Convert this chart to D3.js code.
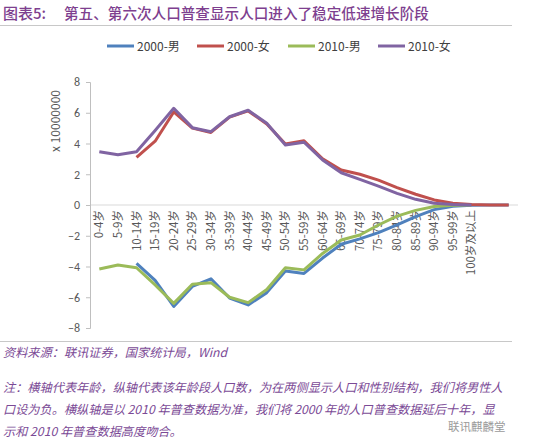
<!DOCTYPE html>
<html><head><meta charset="utf-8">
<script src="https://cdn.jsdelivr.net/npm/d3@7"></script>
<style>body{margin:0;background:#fff}svg{display:block}text{font-family:"Noto Sans CJK SC","Noto Sans",sans-serif}</style>
</head><body><svg id="c" width="550" height="447"></svg>
<script>
const categories = ["0-4岁","5-9岁","10-14岁","15-19岁","20-24岁","25-29岁","30-34岁","35-39岁","40-44岁","45-49岁","50-54岁","55-59岁","60-64岁","65-69岁","70-74岁","75-79岁","80-84岁","85-89岁","90-94岁","95-99岁","100岁及以上","",""];
const male2000 = [null,null,-3.8,-4.9,-6.6,-5.3,-4.8,-6.05,-6.5,-5.7,-4.3,-4.45,-3.45,-2.55,-2.2,-1.8,-1.3,-0.75,-0.3,-0.08,-0.015,-0.003,0];
const female2000 = [null,null,3.1,4.15,6.05,5.0,4.72,5.72,6.12,5.27,3.97,4.18,3.0,2.28,2.0,1.62,1.13,0.7,0.33,0.11,0.025,0.005,0];
const male2010 = [-4.16,-3.9,-4.08,-5.2,-6.4,-5.15,-5.05,-6.0,-6.35,-5.5,-4.08,-4.22,-3.15,-2.28,-1.95,-1.3,-0.72,-0.35,-0.1,-0.02,-0.003];
const female2010 = [3.47,3.27,3.47,4.85,6.29,5.03,4.77,5.74,6.16,5.32,3.9,4.08,2.93,2.1,1.67,1.23,0.76,0.37,0.11,0.03,0.005];
const seriesNames = ["2000-男","2000-女","2010-男","2010-女"];
const colors = ["#4F81BD","#C0504D","#9BBB59","#8064A2"];
const yTicks = [-8,-6,-4,-2,0,2,4,6,8];

const svg = d3.select("#c");
const purple = "#7E3F8F";
// Title
svg.append("text").attr("x",3).attr("y",19).attr("fill",purple).attr("font-size",15).attr("font-weight",500).text("图表5:");
svg.append("text").attr("x",64).attr("y",19).attr("fill",purple).attr("font-size",14.6).attr("font-weight",500).text("第五、第六次人口普查显示人口进入了稳定低速增长阶段");
svg.append("line").attr("x1",0).attr("x2",512).attr("y1",25.5).attr("y2",25.5).attr("stroke","#c8c8c8").attr("stroke-width",1);

const x = d3.scaleBand().domain(d3.range(categories.length)).range([90,518]);
const y = d3.scaleLinear().domain([-8,8]).range([328,82]);
const cx = i => x(i) + x.bandwidth()/2;

// zero line
svg.append("line").attr("x1",90).attr("x2",518).attr("y1",y(0)).attr("y2",y(0)).attr("stroke","#d9d9d9").attr("stroke-width",1);

// y axis
const ya = svg.append("g").attr("transform","translate(90,0)").call(d3.axisLeft(y).tickValues(yTicks).tickSize(4).tickPadding(6));
ya.select(".domain").attr("stroke","#bfbfbf");
ya.selectAll(".tick line").attr("stroke","#bfbfbf");
ya.selectAll(".tick text").attr("fill","#595959").attr("font-size",12).style("font-family","Calibri, Carlito, 'Liberation Sans', sans-serif");

svg.append("text").attr("transform","translate(60,121) rotate(-90)").attr("text-anchor","middle").attr("fill","#595959").attr("font-size",12).text("x 10000000");

// x labels
svg.append("g").selectAll("text").data(categories).join("text")
  .attr("transform",(d,i)=>`translate(${cx(i)+4},${y(0)+5}) rotate(-90)`)
  .attr("text-anchor","end").attr("fill","#595959").attr("font-size",11.5).text(d=>d);

// lines
const allSeries = [male2000,female2000,male2010,female2010];
const line = d3.line().defined(d=>d!=null).x((d,i)=>cx(i)).y(d=>y(d));
const order = [0,2,1,3];
order.forEach(k=>{
  svg.append("path").attr("d",line(allSeries[k])).attr("fill","none").attr("stroke",colors[k]).attr("stroke-width",3).attr("stroke-linejoin","round");
});

// legend
const lx = [107,197,288,378];
seriesNames.forEach((n,i)=>{
  svg.append("line").attr("x1",lx[i]).attr("x2",lx[i]+27).attr("y1",46).attr("y2",46).attr("stroke",colors[i]).attr("stroke-width",3);
  svg.append("text").attr("x",lx[i]+30).attr("y",50.5).attr("fill","#404040").attr("font-size",12).text(n);
});

// bottom
svg.append("line").attr("x1",0).attr("x2",512).attr("y1",341.5).attr("y2",341.5).attr("stroke","#c8c8c8").attr("stroke-width",1);
const noteColor = "#7B4A96";
const it = (t,xx,yy)=>svg.append("text").attr("x",xx).attr("y",yy).attr("fill",noteColor).attr("font-size",12.2).attr("font-style","italic").text(t);
it("资料来源：联讯证券，国家统计局，Wind",3,357);
it("注：横轴代表年龄，纵轴代表该年龄段人口数，为在两侧显示人口和性别结构，我们将男性人",3,392);
it("口设为负。横纵轴是以 2010 年普查数据为准，我们将 2000 年的人口普查数据延后十年，显",3,414);
it("示和 2010 年普查数据高度吻合。",3,436);
svg.append("text").attr("x",448).attr("y",431).attr("fill","#9a9a9a").attr("font-size",11.5).text("联讯麒麟堂");
</script></body></html>
